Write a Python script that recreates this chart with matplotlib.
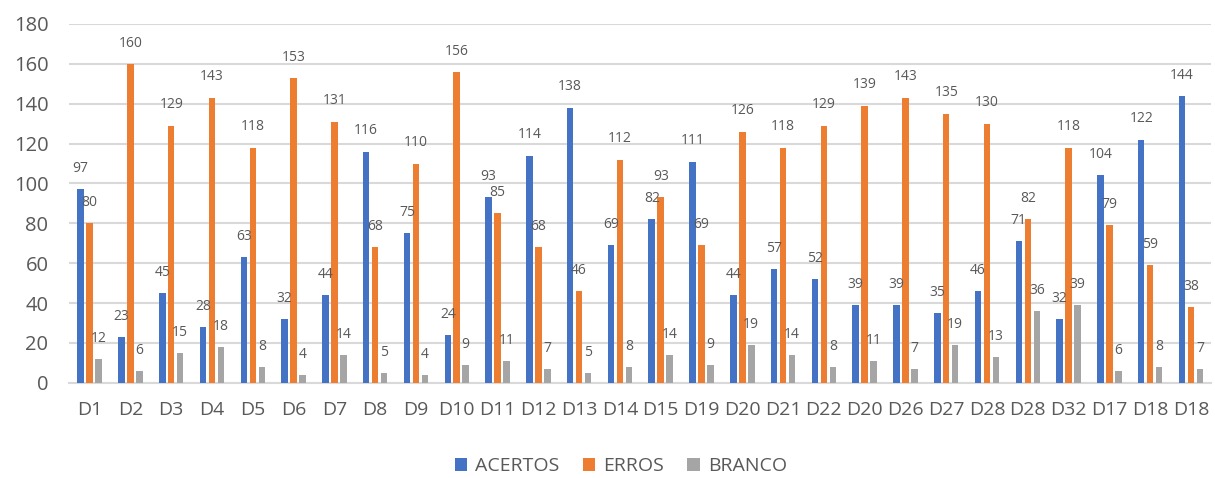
import matplotlib
matplotlib.use("Agg")
import matplotlib.pyplot as plt
import numpy as np

categories = ["D1", "D2", "D3", "D4", "D5", "D6", "D7", "D8", "D9", "D10",
              "D11", "D12", "D13", "D14", "D15", "D19", "D20", "D21", "D22", "D20",
              "D26", "D27", "D28", "D28", "D32", "D17", "D18", "D18"]
acertos = [97, 23, 45, 28, 63, 32, 44, 116, 75, 24, 93, 114, 138, 69, 82, 111,
           44, 57, 52, 39, 39, 35, 46, 71, 32, 104, 122, 144]
erros = [80, 160, 129, 143, 118, 153, 131, 68, 110, 156, 85, 68, 46, 112, 93, 69,
         126, 118, 129, 139, 143, 135, 130, 82, 118, 79, 59, 38]
branco = [12, 6, 15, 18, 8, 4, 14, 5, 4, 9, 11, 7, 5, 8, 14, 9,
          19, 14, 8, 11, 7, 19, 13, 36, 39, 6, 8, 7]
series_names = ["ACERTOS", "ERROS", "BRANCO"]
yticks = [0, 20, 40, 60, 80, 100, 120, 140, 160, 180]

colors = ["#4472C4", "#ED7D31", "#A5A5A5"]
text_color = "#595959"
grid_color = "#D9D9D9"

plt.rcParams["font.family"] = ["Open Sans", "DejaVu Sans"]

fig = plt.figure(figsize=(12.15, 4.78), dpi=100)
ax = fig.add_axes([0.057, 0.199, 0.940, 0.751])

x = np.arange(len(categories))
width = 0.16
step = 0.22
for k, (vals, name, col) in enumerate(zip([acertos, erros, branco], series_names, colors)):
    pos = x + (k - 1) * step
    ax.bar(pos, vals, width=width, color=col, label=name, zorder=3)
    for px, v in zip(pos, vals):
        ax.annotate(str(v), (px, v), xytext=(0, 9.5), textcoords="offset points",
                    ha="center", va="bottom", fontsize=10, color=text_color, zorder=4)

ax.set_xlim(-0.5, len(categories) - 0.5)
ax.set_ylim(0, 180)
ax.set_yticks(yticks)
ax.set_yticklabels([str(t) for t in yticks])
ax.set_xticks(x)
ax.set_xticklabels(categories)
ax.tick_params(axis="y", length=0, pad=15, labelsize=14.5, labelcolor=text_color)
ax.tick_params(axis="x", length=0, pad=13, labelsize=14, labelcolor=text_color)
ax.grid(axis="y", color=grid_color, linewidth=1.5, zorder=0)
for s in ["top", "right", "left"]:
    ax.spines[s].set_visible(False)
ax.spines["bottom"].set_color(grid_color)
ax.spines["bottom"].set_linewidth(1.5)

leg = fig.legend(loc="center", bbox_to_anchor=(0.511, 0.025), ncol=3, frameon=False,
                 fontsize=14, handlelength=0.65, handleheight=0.65, handletextpad=0.4,
                 columnspacing=1.2)
for t in leg.get_texts():
    t.set_color(text_color)

fig.savefig("out.png", dpi=100)
